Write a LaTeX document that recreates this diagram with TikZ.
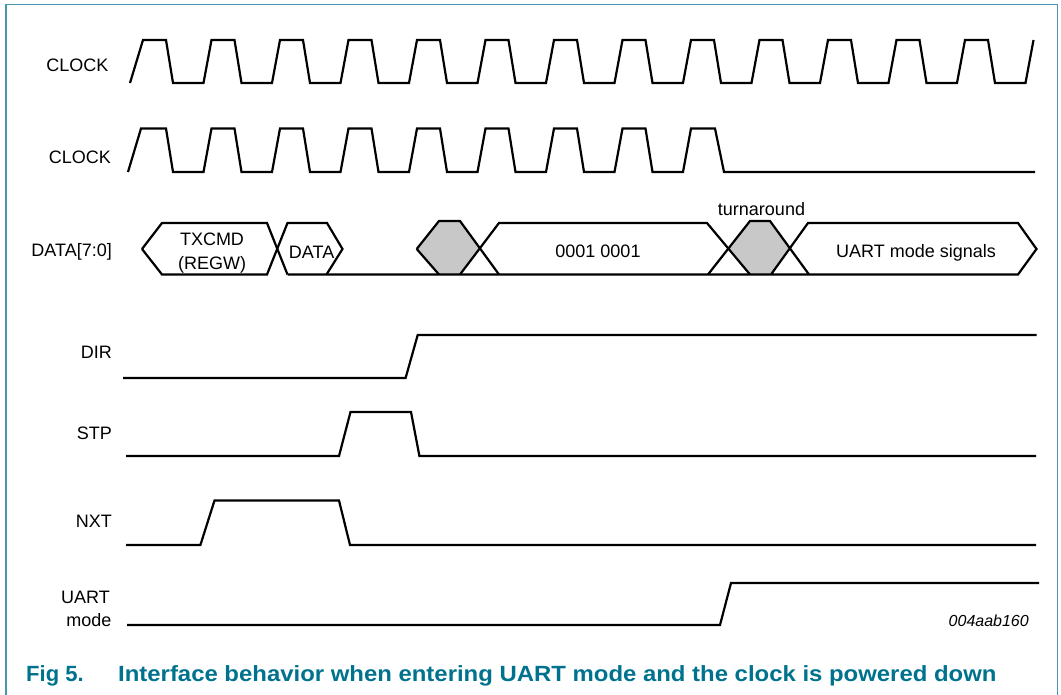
\documentclass[tikz,border=0pt]{standalone}
\usepackage{fontspec}
\setmainfont{Liberation Sans}
\definecolor{frame}{RGB}{70,150,175}
\definecolor{capc}{RGB}{0,114,142}
\definecolor{busgray}{RGB}{200,200,200}
\begin{document}
\begin{tikzpicture}[x=1pt,y=-1pt,
  sig/.style={line width=2.2pt,line join=miter},
  lbl/.style={inner sep=0pt,anchor=base east,font=\fontsize{18}{21}\selectfont},
  txt/.style={inner sep=0pt,anchor=base,font=\fontsize{18}{21}\selectfont},
  captxt/.style={inner sep=0pt,anchor=base west,text=capc,font=\fontsize{22}{26}\selectfont\bfseries}]
\useasboundingbox (0,0) rectangle (1061,695);
% frame
\draw[frame,line width=1.5pt] (6,695) -- (6,4.5) -- (1057.5,4.5) -- (1057.5,695);
% labels
\node[lbl] (lclk1) at (108.5,71.8) {CLOCK};
\node[lbl] (lclk2) at (111,164) {CLOCK};
\node[lbl] (ldata) at (112,257) {DATA[7:0]};
\node[lbl] (ldir) at (112,358) {DIR};
\node[lbl] (lstp) at (112,439.5) {STP};
\node[lbl] (lnxt) at (112,527.5) {NXT};
\node[lbl] (luart) at (110,603.3) {UART};
\node[lbl] (lmode) at (111.5,626.7) {mode};
% CLOCK 1
\draw[sig] (130,83) -- (143,40)
  \foreach \k in {0,...,12} {
    -- ({143+68.5*\k},40) -- ({143+68.5*\k+23},40) -- ({143+68.5*\k+30},83) -- ({143+68.5*(\k+1)-8},83) -- ({143+68.5*(\k+1)},40)
  };
% CLOCK 2
\draw[sig] (128,172) -- (141,128.5) -- (143,128.5)
  \foreach \k in {0,...,7} {
    -- ({143+68.5*\k+23},128.5) -- ({143+68.5*\k+30},172) -- ({143+68.5*(\k+1)-8},172) -- ({143+68.5*(\k+1)},128.5)
  } -- (715,128.5) -- (724,172) -- (1035,172);
% DATA bus
\fill[busgray] (416.7,249) -- (439,221) -- (460,221) -- (480,249) -- (460,274.5) -- (439,274.5) -- cycle;
\fill[busgray] (728.3,248.2) -- (750,221) -- (770,221) -- (789.5,248) -- (771,274.5) -- (750,274.5) -- cycle;
\draw[sig] (142,249) -- (162,223) -- (267,223) -- (287.5,274.5);
\draw[sig] (142,249) -- (162,274.5) -- (267,274.5) -- (287.5,223) -- (327,223) -- (342.5,249) -- (326.5,274.5);
\draw[sig] (287.5,274.5) -- (1018,274.5) -- (1036.5,249) -- (1018,223) -- (808,223) -- (771,274.5);
\draw[sig] (416.7,249) -- (439,274.5);
\draw[sig] (416.7,249) -- (439,221) -- (460,221) -- (499,274.5);
\draw[sig] (460,274.5) -- (499,223) -- (707,223) -- (750,274.5);
\draw[sig] (708,274.5) -- (750,221) -- (770,221) -- (809,274.5);
\node[txt] (ttx) at (212,246) {TXCMD};
\node[txt] (treg) at (212,270) {(REGW)};
\node[txt] (tdat) at (311.6,258.5) {DATA};
\node[txt] (t0001) at (598,257.5) {0001 0001};
\node[txt] (tuart) at (916,257.5) {UART mode signals};
\node[txt] (tturn) at (761.5,216) {turnaround};
% DIR
\draw[sig] (123,378) -- (405.6,378) -- (417.7,335) -- (1036.5,335);
% STP
\draw[sig] (126,456) -- (339,456) -- (350.5,412) -- (411,412) -- (419.4,456) -- (1036,456);
% NXT
\draw[sig] (126,545) -- (200.4,545) -- (214.5,500.5) -- (339,500.5) -- (350,545) -- (1036,545);
% UART mode
\draw[sig] (127,625) -- (720,625) -- (731,583) -- (1039,583);
\node[inner sep=0pt,anchor=base east,font=\fontsize{16}{19}\selectfont\itshape] (code) at (1029,626.7) {004aab160};
% caption
\node[captxt] (cfig) at (26,681.7) {Fig 5.};
\node[captxt] (ctext) at (118,681.7) {\scalebox{1.087}[1]{Interface behavior when entering UART mode and the clock is powered down}};
\end{tikzpicture}
\end{document}
